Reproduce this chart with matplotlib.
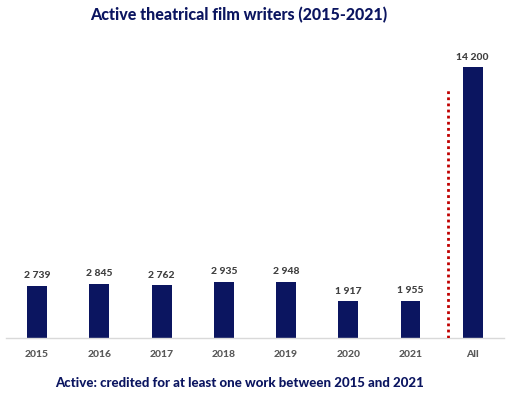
import matplotlib
matplotlib.use("Agg")
import matplotlib.pyplot as plt

categories = ["2015", "2016", "2017", "2018", "2019", "2020", "2021", "All"]
values = [2739, 2845, 2762, 2935, 2948, 1917, 1955, 14200]
labels = ["2 739", "2 845", "2 762", "2 935", "2 948", "1 917", "1 955", "14 200"]

plt.rcParams['font.family'] = ['Lato', 'DejaVu Sans']
navy = "#0b1560"

fig = plt.figure(figsize=(5.08, 3.99), dpi=100)
ax = fig.add_axes([0.0118, 0.1529, 0.980, 0.7168])
x = list(range(len(categories)))
ax.bar(x, values, width=0.32, color=navy, zorder=2)
for xi, v, lab in zip(x, values, labels):
    ax.text(xi, v + 300, lab, ha='center', va='bottom', fontsize=7.5,
            fontweight='black', color='#404040')
ax.vlines(6.6, 0, 13100, colors='#c00000', linestyles=(0, (1, 1.2)), linewidth=2, zorder=3)
ax.set_xlim(-0.5, 7.5)
ax.set_ylim(0, 15000)
ax.set_xticks(x)
ax.set_xticklabels(categories, fontsize=7.5, fontweight='black', color='#595959')
ax.tick_params(axis='x', length=0, pad=9)
ax.set_yticks([])
for s in ['top', 'right', 'left']:
    ax.spines[s].set_visible(False)
ax.spines['bottom'].set_color('#d9d9d9')
ax.spines['bottom'].set_linewidth(1)

fig.text(0.469, 0.962, "Active theatrical film writers (2015-2021)", ha='center', va='center',
         fontsize=11.5, fontweight='black', color=navy)
fig.text(0.471, 0.040, "Active: credited for at least one work between 2015 and 2021", ha='center',
         va='center', fontsize=9.5, fontweight='black', color=navy)

fig.savefig("out.png", dpi=100)
